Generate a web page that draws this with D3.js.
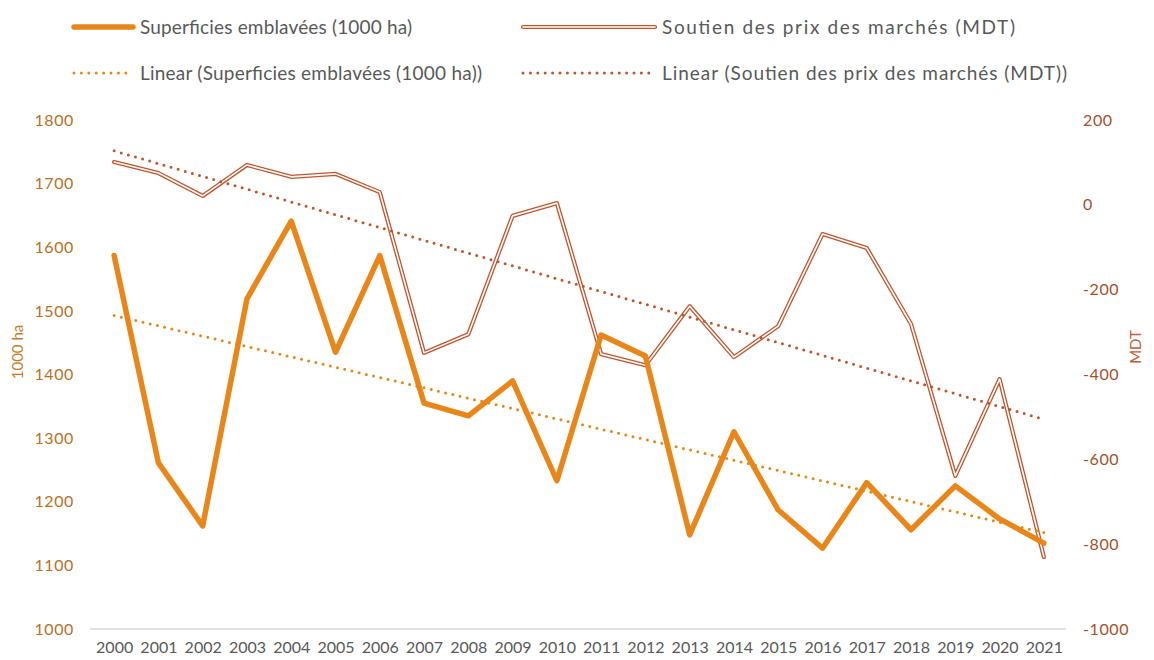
<!DOCTYPE html>
<html>
<head>
<meta charset="utf-8">
<script src="https://cdn.jsdelivr.net/npm/d3@7/dist/d3.min.js"></script>
<style>
  html, body { margin: 0; padding: 0; background: #fff; }
  svg { display: block; font-family: Lato, "Open Sans", sans-serif; }
</style>
</head>
<body>
<svg id="chart" width="1154" height="660"></svg>
<script>
// Years on the category axis
const years = ["2000","2001","2002","2003","2004","2005","2006","2007","2008","2009","2010",
               "2011","2012","2013","2014","2015","2016","2017","2018","2019","2020","2021"];

// Sown area, thousand hectares (left axis)
const superficies = [1587, 1261, 1162, 1519, 1641, 1435, 1587, 1355, 1335, 1390, 1233,
                     1462, 1429, 1148, 1310, 1187, 1127, 1230, 1156, 1225, 1173, 1135];

// Market price support, million dinars (right axis)
const soutien = [101, 75, 21, 94, 66, 73, 30, -349, -305, -26, 4,
                 -352, -378, -239, -359, -286, -69, -102, -281, -639, -411, -830];

const leftTicks = [1000, 1100, 1200, 1300, 1400, 1500, 1600, 1700, 1800];
const rightTicks = [-1000, -800, -600, -400, -200, 0, 200];

const labels = {
  s1: "Superficies emblavées (1000 ha)",
  s2: "Soutien des prix des marchés (MDT)",
  t1: "Linear (Superficies emblavées (1000 ha))",
  t2: "Linear (Soutien des prix des marchés (MDT))",
  yLeft: "1000 ha",
  yRight: "MDT"
};

const C = {
  orange: "#E8861A",
  red: "#C0552C",
  leftText: "#B96F1F",
  rightText: "#A4502A",
  axisTitleL: "#C47A28",
  axisTitleR: "#C2603A",
  text: "#595959",
  grid: "#D9D9D9"
};

const svg = d3.select("#chart");
const plot = { left: 92, right: 1066, top: 120, bottom: 629 };

const x = d3.scalePoint().domain(years).range([plot.left, plot.right]).padding(0.5);
const yL = d3.scaleLinear().domain([1000, 1800]).range([plot.bottom, plot.top]);
const yR = d3.scaleLinear().domain([-1000, 200]).range([plot.bottom, plot.top]);

const plain = d => String(d);

// Least-squares trend line, evaluated at every year
function linearTrend(values) {
  const n = values.length;
  const xs = d3.range(n);
  const mx = d3.mean(xs), my = d3.mean(values);
  const sxy = d3.sum(xs, (v, i) => (v - mx) * (values[i] - my));
  const sxx = d3.sum(xs, v => (v - mx) * (v - mx));
  const b = sxy / sxx, a = my - b * mx;
  return xs.map(i => a + b * i);
}

// Baseline
svg.append("line")
  .attr("x1", plot.left - 2).attr("x2", plot.right)
  .attr("y1", plot.bottom).attr("y2", plot.bottom)
  .attr("stroke", C.grid).attr("stroke-width", 1.3);

// Left axis
const axL = d3.axisLeft(yL).tickValues(leftTicks).tickFormat(plain).tickSize(0).tickPadding(0);
svg.append("g").attr("transform", `translate(${plot.left - 18},0)`).call(axL)
  .call(g => g.select(".domain").remove())
  .call(g => g.selectAll("text").attr("fill", C.leftText).attr("font-size", 16)
    .attr("font-family", "Lato, sans-serif").attr("letter-spacing", 0.6));

// Right axis
const axR = d3.axisRight(yR).tickValues(rightTicks).tickFormat(plain).tickSize(0).tickPadding(0);
svg.append("g").attr("transform", `translate(1083,0)`).call(axR)
  .call(g => g.select(".domain").remove())
  .call(g => g.selectAll("text").attr("fill", C.rightText).attr("font-size", 16)
    .attr("font-family", "Lato, sans-serif").attr("letter-spacing", 0.6));

// Category axis
const axX = d3.axisBottom(x).tickSize(0).tickPadding(0);
svg.append("g").attr("transform", `translate(0,${plot.bottom + 13})`).call(axX)
  .call(g => g.select(".domain").remove())
  .call(g => g.selectAll("text").attr("fill", C.text).attr("font-size", 16)
    .attr("font-family", "Lato, sans-serif"));

// Axis titles
svg.append("text").attr("transform", "translate(23,352) rotate(-90)")
  .attr("text-anchor", "middle").attr("fill", C.axisTitleL).attr("font-size", 15)
  .text(labels.yLeft);
svg.append("text").attr("transform", "translate(1141,347) rotate(-90)")
  .attr("text-anchor", "middle").attr("fill", C.axisTitleR).attr("font-size", 15)
  .text(labels.yRight);

const lineL = d3.line().x((d, i) => x(years[i])).y(d => yL(d));
const lineR = d3.line().x((d, i) => x(years[i])).y(d => yR(d));

const dotted = sel => sel.attr("fill", "none").attr("stroke-width", 3)
  .attr("stroke-linecap", "round").attr("stroke-dasharray", "0 7.4");

// Market price support: double (compound) line
svg.append("path").datum(soutien).attr("d", lineR)
  .attr("fill", "none").attr("stroke", C.red).attr("stroke-width", 4.2)
  .attr("stroke-linejoin", "round").attr("stroke-linecap", "round");
svg.append("path").datum(soutien).attr("d", lineR)
  .attr("fill", "none").attr("stroke", "#fff").attr("stroke-width", 1.6)
  .attr("stroke-linejoin", "round").attr("stroke-linecap", "round");

// Trend lines
const trend1 = linearTrend(superficies);
const trend2 = linearTrend(soutien);
svg.append("path").datum(trend2).attr("d", lineR).attr("stroke", C.red).call(dotted);

// Sown area: thick line
svg.append("path").datum(superficies).attr("d", lineL)
  .attr("fill", "none").attr("stroke", C.orange).attr("stroke-width", 5.5)
  .attr("stroke-linejoin", "round").attr("stroke-linecap", "round");

svg.append("path").datum(trend1).attr("d", lineL).attr("stroke", C.orange).call(dotted);

// Legend
const legend = svg.append("g").attr("font-size", 19).attr("fill", C.text);
const L = [
  { x: 74, y: 27, key: "s1", w: 272 },
  { x: 523, y: 27, key: "s2", w: 353 },
  { x: 74, y: 73, key: "t1", w: 342 },
  { x: 523, y: 73, key: "t2", w: 405 }
];
const sampleW = { s1: 59, s2: 132, t1: 59, t2: 132 };
L.forEach(item => {
  const g = legend.append("g");
  const x1 = item.x, x2 = item.x + sampleW[item.key];
  if (item.key === "s1") {
    g.append("line").attr("x1", x1).attr("x2", x2).attr("y1", item.y).attr("y2", item.y)
      .attr("stroke", C.orange).attr("stroke-width", 5.5).attr("stroke-linecap", "round");
  } else if (item.key === "s2") {
    g.append("line").attr("x1", x1).attr("x2", x2).attr("y1", item.y).attr("y2", item.y)
      .attr("stroke", C.red).attr("stroke-width", 4.2).attr("stroke-linecap", "round");
    g.append("line").attr("x1", x1).attr("x2", x2).attr("y1", item.y).attr("y2", item.y)
      .attr("stroke", "#fff").attr("stroke-width", 1.6).attr("stroke-linecap", "round");
  } else {
    g.append("line").attr("x1", x1).attr("x2", x2).attr("y1", item.y).attr("y2", item.y)
      .attr("stroke", item.key === "t1" ? C.orange : C.red).call(dotted);
  }
  g.append("text").attr("x", x2 + 7).attr("y", item.y).attr("dy", "0.35em")
    .attr("textLength", item.w).attr("lengthAdjust", "spacing")
    .text(labels[item.key]);
});
</script>
</body>
</html>
